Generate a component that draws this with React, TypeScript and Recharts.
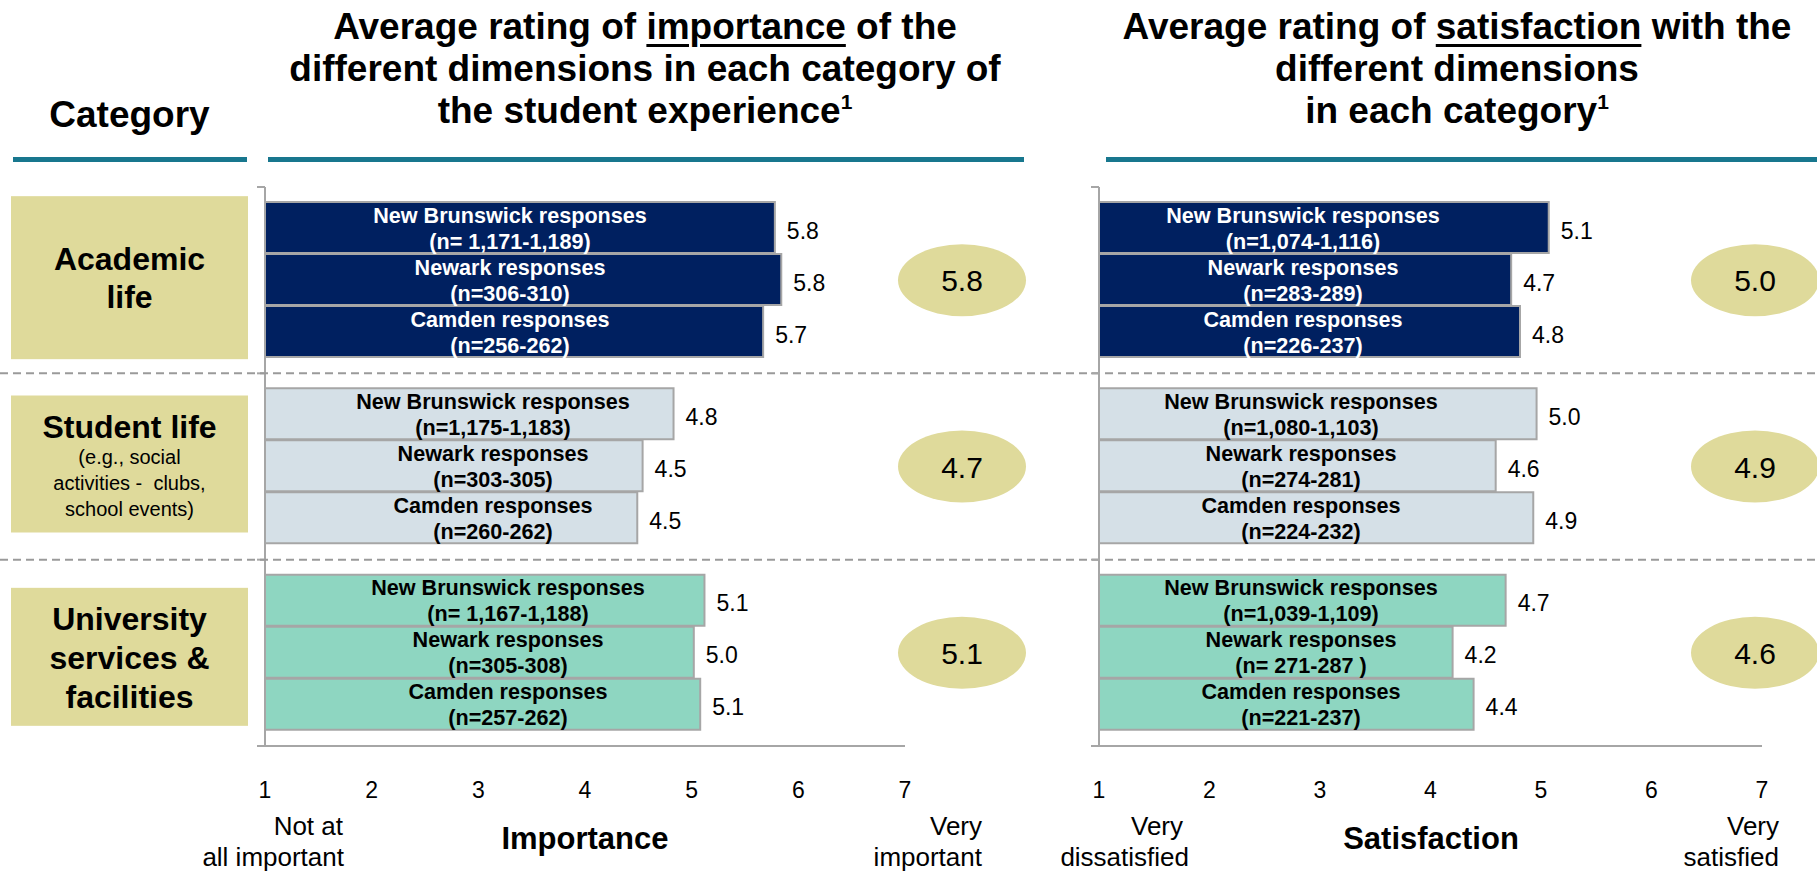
import React from 'react';
import { BarChart, Bar, XAxis, YAxis, LabelList, Cell } from 'recharts';

// ---------------- data ----------------
const categories = ['Academic life', 'Student life', 'University services & facilities'];
const campusNames = ['New Brunswick responses', 'Newark responses', 'Camden responses'];

const importanceNewBrunswick = [5.78, 4.83, 5.12];
const importanceNewark = [5.84, 4.54, 5.02];
const importanceCamden = [5.67, 4.49, 5.08];
const importanceAverage = [5.8, 4.7, 5.1];

const satisfactionNewBrunswick = [5.07, 4.96, 4.68];
const satisfactionNewark = [4.73, 4.59, 4.2];
const satisfactionCamden = [4.81, 4.93, 4.39];
const satisfactionAverage = [5.0, 4.9, 4.6];

const importanceCountsNewBrunswick = ['(n= 1,171-1,189)', '(n=1,175-1,183)', '(n= 1,167-1,188)'];
const importanceCountsNewark = ['(n=306-310)', '(n=303-305)', '(n=305-308)'];
const importanceCountsCamden = ['(n=256-262)', '(n=260-262)', '(n=257-262)'];

const satisfactionCountsNewBrunswick = ['(n=1,074-1,116)', '(n=1,080-1,103)', '(n=1,039-1,109)'];
const satisfactionCountsNewark = ['(n=283-289)', '(n=274-281)', '(n= 271-287 )'];
const satisfactionCountsCamden = ['(n=226-237)', '(n=224-232)', '(n=221-237)'];

const xTicks = [1, 2, 3, 4, 5, 6, 7];

const categoryLabelLines = [
  ['Academic', 'life'],
  ['Student life', '(e.g., social', 'activities -  clubs,', 'school events)'],
  ['University', 'services &', 'facilities'],
];

// ---------------- styles ----------------
const FONT = "'Liberation Sans', Arial, Helvetica, sans-serif";
const groupFills = ['#002060', '#D5E0E7', '#8ED6C1'];
const groupTextColors = ['#FFFFFF', '#000000', '#000000'];
const KHAKI = '#DFDA9B';
const AXIS_GRAY = '#A6A6A6';
const TEAL = '#18778E';

// baseline offsets relative to the band centre
const categoryLineLayout = [
  [
    { dy: -10, size: 32, bold: true },
    { dy: 28, size: 32, bold: true },
  ],
  [
    { dy: -29, size: 32, bold: true },
    { dy: -3, size: 20, bold: false },
    { dy: 23, size: 20, bold: false },
    { dy: 49, size: 20, bold: false },
  ],
  [
    { dy: -23, size: 32, bold: true },
    { dy: 16, size: 32, bold: true },
    { dy: 55, size: 32, bold: true },
  ],
];
const categoryBoxLayout = [
  { top: -84, bottom: 79 },
  { top: -71, bottom: 66 },
  { top: -65, bottom: 73 },
];

const buildRows = (nb: number[], nw: number[], cm: number[], avg: number[]) =>
  categories.map((c, i) => ({ category: c, nb: nb[i], newark: nw[i], camden: cm[i], avg: avg[i] }));

const importanceRows = buildRows(importanceNewBrunswick, importanceNewark, importanceCamden, importanceAverage);
const satisfactionRows = buildRows(satisfactionNewBrunswick, satisfactionNewark, satisfactionCamden, satisfactionAverage);

const CHART_W = 1817;
const CHART_H = 872;

function getHalfBand(payload: any, fallback: number) {
  const o = payload && typeof payload.offset === 'number' ? payload.offset : 0;
  return o > 10 ? o : fallback;
}

function CategoryTick(props: any) {
  const { x, y, payload, index, showCategories, fallbackHalf, averages, ellipseX } = props;
  const half = getHalfBand(payload, fallbackHalf);
  const ax = Number(x);
  const cy = Number(y);
  const i = typeof index === 'number' ? index : categories.indexOf(payload.value);
  const top = cy - half;
  const bottom = cy + half;
  const last = i === categories.length - 1;
  return (
    <g>
      <line x1={ax - 8} x2={ax} y1={top} y2={top} stroke={AXIS_GRAY} strokeWidth={2} />
      {last && <line x1={ax - 8} x2={ax} y1={bottom} y2={bottom} stroke={AXIS_GRAY} strokeWidth={2} />}
      {showCategories && i > 0 && (
        <line x1={0} x2={CHART_W} y1={top} y2={top} stroke="#9A9A9A" strokeWidth={2} strokeDasharray="8 5" />
      )}
      {showCategories && (
        <g>
          <rect
            x={11}
            y={cy + categoryBoxLayout[i].top}
            width={237}
            height={categoryBoxLayout[i].bottom - categoryBoxLayout[i].top}
            fill={KHAKI}
          />
          {categoryLabelLines[i].map((t, k) => {
            const l = categoryLineLayout[i][k];
            return (
              <text
                key={k}
                x={129.5}
                y={cy + l.dy}
                textAnchor="middle"
                fontSize={l.size}
                fontWeight={l.bold ? 'bold' : 'normal'}
                fill="#000"
                style={{ whiteSpace: 'pre' }}
              >
                {t}
              </text>
            );
          })}
        </g>
      )}
      <ellipse cx={ellipseX} cy={cy} rx={64} ry={36} fill={KHAKI} />
      <text x={ellipseX} y={cy + 11} textAnchor="middle" fontSize={30} fill="#000">
        {averages[i].toFixed(1)}
      </text>
    </g>
  );
}

function makeBarLabel(seriesIndex: number, counts: string[], labelOffsets: number[]) {
  return (props: any) => {
    const vb = props.viewBox && props.viewBox.width !== undefined ? props.viewBox : props;
    const x = Number(vb.x);
    const y = Number(vb.y);
    const w = Number(vb.width);
    const h = Number(vb.height);
    const idx = Number(props.index);
    const cy = y + h / 2;
    const color = groupTextColors[idx];
    const v = Number(props.value);
    return (
      <g>
        <text x={x + labelOffsets[idx]} y={cy - 5} textAnchor="middle" fontSize={21.6} fontWeight="bold" fill={color}>
          {campusNames[seriesIndex]}
        </text>
        <text
          x={x + labelOffsets[idx]}
          y={cy + 21}
          textAnchor="middle"
          fontSize={21.6}
          fontWeight="bold"
          fill={color}
          style={{ whiteSpace: 'pre' }}
        >
          {counts[idx]}
        </text>
        <text x={x + w + 12} y={cy + 11} fontSize={23} fill="#000">
          {v.toFixed(1)}
        </text>
      </g>
    );
  };
}

type PanelProps = {
  rows: any[];
  margin: { top: number; right: number; bottom: number; left: number };
  counts: string[][];
  labelOffsets: number[];
  ellipseDx: number;
  showCategories: boolean;
};

function Panel({ rows, margin, counts, labelOffsets, ellipseDx, showCategories }: PanelProps) {
  const plotH = CHART_H - margin.top - margin.bottom - 60;
  const fallbackHalf = plotH / categories.length / 2;
  const plotRight = CHART_W - margin.right;
  const keys = ['nb', 'newark', 'camden'];
  const averages = rows.map((r) => r.avg);
  return (
    <BarChart
      width={CHART_W}
      height={CHART_H}
      data={rows}
      layout="vertical"
      margin={margin}
      barCategoryGap={15}
      barGap={1}
    >
      <XAxis
        type="number"
        domain={[1, 7]}
        ticks={xTicks}
        interval={0}
        allowDataOverflow
        height={60}
        axisLine={{ stroke: AXIS_GRAY, strokeWidth: 2 }}
        tickLine={false}
        tickSize={0}
        tickMargin={36}
        tick={{ fill: '#000', fontSize: 23 }}
      />
      <YAxis
        type="category"
        dataKey="category"
        width={254}
        interval={0}
        axisLine={{ stroke: AXIS_GRAY, strokeWidth: 2 }}
        tickLine={false}
        tickSize={0}
        tickMargin={0}
        tick={(p: any) => (
          <CategoryTick
            {...p}
            showCategories={showCategories}
            fallbackHalf={fallbackHalf}
            averages={averages}
            ellipseX={plotRight + ellipseDx}
          />
        )}
      />
      {keys.map((k, s) => (
        <Bar key={k} dataKey={k} isAnimationActive={false} stroke={AXIS_GRAY} strokeWidth={2}>
          {rows.map((_, i) => (
            <Cell key={i} fill={groupFills[i]} />
          ))}
          <LabelList dataKey={k} content={makeBarLabel(s, counts[s], labelOffsets)} />
        </Bar>
      ))}
    </BarChart>
  );
}

const titleStyle: React.CSSProperties = {
  position: 'absolute',
  top: 6,
  fontSize: 37,
  fontWeight: 'bold',
  lineHeight: '42px',
  textAlign: 'center',
  color: '#000',
  whiteSpace: 'nowrap',
};
const underline: React.CSSProperties = {
  textDecoration: 'underline',
  textDecorationThickness: '3px',
  textUnderlineOffset: '5px',
};
const sup: React.CSSProperties = { fontSize: 21, position: 'relative', top: -14 };

export default function App() {
  return (
    <div
      style={{
        position: 'absolute',
        left: 0,
        top: 0,
        width: CHART_W,
        height: CHART_H,
        overflow: 'hidden',
        background: '#fff',
        fontFamily: FONT,
      }}
    >
      {/* headers */}
      <div style={{ ...titleStyle, top: 94, left: 0, width: 259 }}>Category</div>
      <div style={{ ...titleStyle, left: 225, width: 840 }}>
        Average rating of <span style={underline}>importance</span> of the
        <br />
        different dimensions in each category of
        <br />
        the student experience<span style={sup}>1</span>
      </div>
      <div style={{ ...titleStyle, left: 1097, width: 720 }}>
        Average rating of <span style={underline}>satisfaction</span> with the
        <br />
        different dimensions
        <br />
        in each category<span style={sup}>1</span>
      </div>
      <div style={{ position: 'absolute', left: 13, top: 157, width: 234, height: 5, background: TEAL }} />
      <div style={{ position: 'absolute', left: 268, top: 157, width: 756, height: 5, background: TEAL }} />
      <div style={{ position: 'absolute', left: 1106, top: 157, width: 711, height: 5, background: TEAL }} />

      {/* importance panel */}
      <div style={{ position: 'absolute', left: 0, top: 0 }}>
        <Panel
          rows={importanceRows}
          margin={{ top: 187, right: CHART_W - 905, bottom: 66, left: 11 }}
          counts={[importanceCountsNewBrunswick, importanceCountsNewark, importanceCountsCamden]}
          labelOffsets={[245, 228, 243]}
          ellipseDx={57}
          showCategories={true}
        />
      </div>

      {/* satisfaction panel */}
      <div style={{ position: 'absolute', left: 0, top: 0 }}>
        <Panel
          rows={satisfactionRows}
          margin={{ top: 187, right: CHART_W - 1762, bottom: 66, left: 1099 - 254 }}
          counts={[satisfactionCountsNewBrunswick, satisfactionCountsNewark, satisfactionCountsCamden]}
          labelOffsets={[204, 202, 202]}
          ellipseDx={-7}
          showCategories={false}
        />
      </div>

      {/* axis captions */}
      <svg
        width={CHART_W}
        height={CHART_H}
        style={{ position: 'absolute', left: 0, top: 0, pointerEvents: 'none' }}
      >
        <g fontSize={26} fill="#000" textAnchor="end">
          <text x={343} y={835}>Not at</text>
          <text x={344} y={866}>all important</text>
          <text x={982} y={835}>Very</text>
          <text x={982} y={866}>important</text>
          <text x={1183} y={835}>Very</text>
          <text x={1189} y={866}>dissatisfied</text>
          <text x={1779} y={835}>Very</text>
          <text x={1779} y={866}>satisfied</text>
        </g>
        <text x={585} y={849} fontSize={31} fontWeight="bold" textAnchor="middle" fill="#000">
          Importance
        </text>
        <text x={1431} y={849} fontSize={31} fontWeight="bold" textAnchor="middle" fill="#000">
          Satisfaction
        </text>
      </svg>
    </div>
  );
}
